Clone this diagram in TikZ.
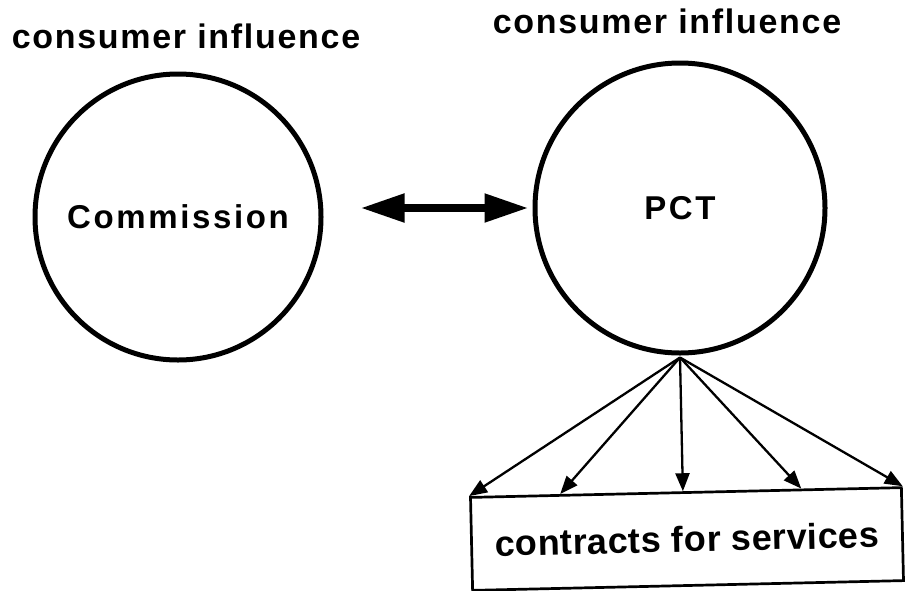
\documentclass[tikz,border=0pt]{standalone}
\usepackage{fontspec}
\usetikzlibrary{arrows.meta,calc}
\newfontfamily\headfont[LetterSpace=5]{Liberation Sans Bold}
\newfontfamily\bodyfont[LetterSpace=8]{Liberation Sans Bold}
\newfontfamily\boxfont[LetterSpace=1.5]{Liberation Sans Bold}
\begin{document}
\begin{tikzpicture}[x=1pt,y=-1pt,
  bubble/.style={circle,draw,line width=5pt,inner sep=0pt,
    font=\bodyfont\fontsize{33}{40}\selectfont},
  heading/.style={anchor=base,inner sep=0pt,
    font=\headfont\fontsize{34}{40}\selectfont},
  servicebox/.style={draw,line width=2.7pt,minimum width=431pt,minimum height=93pt,
    inner sep=0pt,rotate=1.3,font=\boxfont\fontsize{36}{42}\selectfont},
  linkarrow/.style={line width=8pt,{Triangle[length=44pt,width=27pt]}-{Triangle[length=44pt,width=27pt]}},
  fanarrow/.style={line width=2.3pt,-{Triangle[length=18pt,width=14pt]}}]
\useasboundingbox (0,0) rectangle (905,590);

% the two bodies
\node[bubble,minimum size=286pt] (comm) at (178,217) {Commission};
\node[bubble,minimum size=290pt] (pct) at (680,208) {PCT};

% headings above each body
\node[heading] (infl1) at (186,48) {consumer influence};
\node[heading] (infl2) at (667,33) {consumer influence};

% two-way link between the bodies
\draw[linkarrow,shorten <=37pt,shorten >=4pt] (pct.west -| comm.east) -- (pct.west);

% contracts box and the fan of arrows into it
\node[servicebox] (svc) at (687,539) {contracts for services};
\coordinate (apex) at ($(pct.south)+(0,2)$);
\foreach \t in {0,0.21,0.493,0.766,1}
  \draw[fanarrow] (apex) -- ($(svc.north west)!\t!(svc.north east)$);
\end{tikzpicture}
\end{document}
